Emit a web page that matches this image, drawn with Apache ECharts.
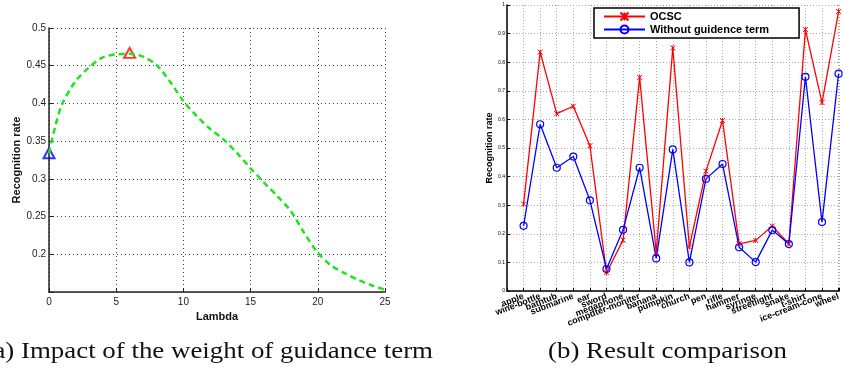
<!DOCTYPE html>
<html>
<head>
<meta charset="utf-8">
<script src="https://cdn.jsdelivr.net/npm/echarts@6/dist/echarts.min.js"></script>
<style>
  html, body { margin: 0; padding: 0; background: #fff; }
  #chart { width: 843px; height: 368px; }
</style>
</head>
<body>
<div id="chart"></div>
<script>
// (a) lambda sweep
var lambdaX = [0, 0.5, 1, 2, 3, 4, 5, 6, 7, 8, 9, 10, 11, 12, 13, 14, 15, 16, 17, 18, 19, 20, 21, 22, 23, 24, 25];
var lambdaRate = [0.334, 0.372, 0.400, 0.430, 0.448, 0.461, 0.465, 0.466, 0.462, 0.451, 0.429, 0.403, 0.383, 0.366,
                  0.352, 0.334, 0.314, 0.295, 0.277, 0.257, 0.228, 0.202, 0.185, 0.175, 0.166, 0.159, 0.153];
var startPoint = [0, 0.334];
var bestPoint = [6, 0.467];

// (b) per-category comparison
var categories = ['apple', 'wine-bottle', 'bathtub', 'submarine', 'ear', 'sword', 'megaphone', 'computer-moniter',
                  'banana', 'pumpkin', 'church', 'pen', 'rifle', 'hammer', 'syringe', 'streetlight', 'snake',
                  't-shirt', 'ice-cream-cone', 'wheel'];
var ocsc = [0.304, 0.835, 0.620, 0.646, 0.508, 0.064, 0.178, 0.747, 0.135, 0.850,
            0.154, 0.419, 0.596, 0.165, 0.177, 0.227, 0.165, 0.914, 0.659, 0.977];
var noGuide = [0.228, 0.583, 0.431, 0.470, 0.317, 0.077, 0.214, 0.431, 0.114, 0.495,
               0.100, 0.392, 0.444, 0.153, 0.101, 0.213, 0.164, 0.749, 0.241, 0.760];

var captionA = '(a) Impact of the weight of guidance term';
var captionB = '(b) Result comparison';

var sans = '"Liberation Sans", Arial, sans-serif';

function pairs(xs, ys) {
    return xs.map(function (x, i) { return [x, ys[i]]; });
}
function indexed(ys) {
    return ys.map(function (y, i) { return [i + 1, y]; });
}

var myChart = echarts.init(document.getElementById('chart'));

var option = {
    animation: false,
    backgroundColor: '#fff',
    grid: [
        { left: 49, top: 28, width: 336, height: 264 },
        // the original plot runs past the right edge of the page, so the axis is cut at 20.04
        { left: 507, top: 5, right: 0, height: 286 }
    ],
    legend: {
        data: ['OCSC', 'Without guidence term'],
        orient: 'vertical',
        left: 594,
        top: 8,
        padding: [3, 30, 3, 9],
        itemWidth: 41,
        itemHeight: 10,
        itemGap: 2,
        borderColor: '#000',
        borderWidth: 1.5,
        borderRadius: 0,
        backgroundColor: '#fff',
        textStyle: { fontFamily: sans, fontSize: 11, fontWeight: 'bold', color: '#000' }
    },
    xAxis: [
        {
            gridIndex: 0, type: 'value', min: 0, max: 25, interval: 5,
            name: 'Lambda', nameLocation: 'middle', nameGap: 16,
            nameTextStyle: { fontFamily: sans, fontSize: 11, fontWeight: 'bold', color: '#111' },
            axisLine: { lineStyle: { color: '#222', width: 1.5 } },
            axisTick: { inside: true, length: 4, lineStyle: { color: '#222' } },
            axisLabel: { fontFamily: sans, fontSize: 10, color: '#222', margin: 5 },
            splitLine: { show: true, lineStyle: { type: [1, 3], color: '#444', width: 1 } }
        },
        {
            gridIndex: 1, type: 'value', min: 0, max: 20.04, interval: 1,
            axisLine: { lineStyle: { color: '#000', width: 1.5 } },
            axisTick: { inside: true, length: 3, lineStyle: { color: '#000' } },
            axisLabel: {
                fontFamily: sans, fontSize: 9, fontWeight: 'bold', color: '#000', rotate: 21, margin: 5,
                formatter: function (v) { return Number.isInteger(v) ? (categories[v - 1] || '') : ''; }
            },
            splitLine: { show: true, lineStyle: { type: [1, 2], color: '#aaa', width: 1 } }
        }
    ],
    yAxis: [
        {
            gridIndex: 0, type: 'value', min: 0.15, max: 0.5, interval: 0.05,
            name: 'Recognition rate', nameLocation: 'middle', nameGap: 27,
            nameTextStyle: { fontFamily: sans, fontSize: 11, fontWeight: 'bold', color: '#111' },
            axisLine: { show: true, lineStyle: { color: '#222', width: 1.5 } },
            axisTick: { inside: true, length: 4, lineStyle: { color: '#222' } },
            axisLabel: {
                fontFamily: sans, fontSize: 10, color: '#222', margin: 3,
                formatter: function (v) { return v < 0.16 ? '' : String(+v.toFixed(2)); }
            },
            splitLine: { show: true, lineStyle: { type: [1, 3], color: '#444', width: 1 } }
        },
        {
            gridIndex: 1, type: 'value', min: 0, max: 1, interval: 0.1,
            name: 'Recognition rate', nameLocation: 'middle', nameGap: 10,
            nameTextStyle: { fontFamily: sans, fontSize: 9, fontWeight: 'bold', color: '#000' },
            axisLine: { show: true, lineStyle: { color: '#000', width: 1.5 } },
            axisTick: { inside: true, length: 3, lineStyle: { color: '#000' } },
            axisLabel: {
                fontFamily: sans, fontSize: 5, color: '#000', margin: 2,
                formatter: function (v) { return String(+v.toFixed(1)); }
            },
            splitLine: { show: true, lineStyle: { type: [1, 2], color: '#aaa', width: 1 } }
        }
    ],
    series: [
        {
            type: 'line', xAxisIndex: 0, yAxisIndex: 0,
            data: pairs(lambdaX, lambdaRate),
            smooth: 0.3, showSymbol: false,
            lineStyle: { color: '#1ee61e', width: 2.5, type: [6, 4] }
        },
        {
            type: 'scatter', xAxisIndex: 0, yAxisIndex: 0,
            data: [startPoint], symbol: 'triangle', symbolSize: [11, 10],
            itemStyle: { color: 'transparent', borderColor: '#0000ff', borderWidth: 2 }
        },
        {
            type: 'scatter', xAxisIndex: 0, yAxisIndex: 0,
            data: [bestPoint], symbol: 'triangle', symbolSize: [11, 10],
            itemStyle: { color: 'transparent', borderColor: '#ff0000', borderWidth: 2 }
        },
        {
            name: 'OCSC', type: 'line', xAxisIndex: 1, yAxisIndex: 1,
            data: indexed(ocsc),
            symbol: 'path://M0,0L10,10M10,0L0,10M5,0L5,10', symbolSize: 5,
            lineStyle: { color: '#ff0000', width: 1.3 },
            itemStyle: { color: '#ff0000', borderColor: '#ff0000', borderWidth: 1 }
        },
        {
            name: 'Without guidence term', type: 'line', xAxisIndex: 1, yAxisIndex: 1,
            data: indexed(noGuide),
            symbol: 'circle', symbolSize: 7,
            lineStyle: { color: '#0000ff', width: 1.3 },
            itemStyle: { color: 'transparent', borderColor: '#0000ff', borderWidth: 1.2 }
        }
    ],
    graphic: [
        {
            type: 'text', x: 433, y: 352, scaleX: 1.12,
            style: { text: captionA, fill: '#111', font: '24px "Liberation Serif", "Times New Roman", serif',
                     textAlign: 'right', textVerticalAlign: 'middle' }
        },
        {
            type: 'text', x: 548, y: 352, scaleX: 1.12,
            style: { text: captionB, fill: '#111', font: '24px "Liberation Serif", "Times New Roman", serif',
                     textAlign: 'left', textVerticalAlign: 'middle' }
        }
    ]
};

myChart.setOption(option);
</script>
</body>
</html>
